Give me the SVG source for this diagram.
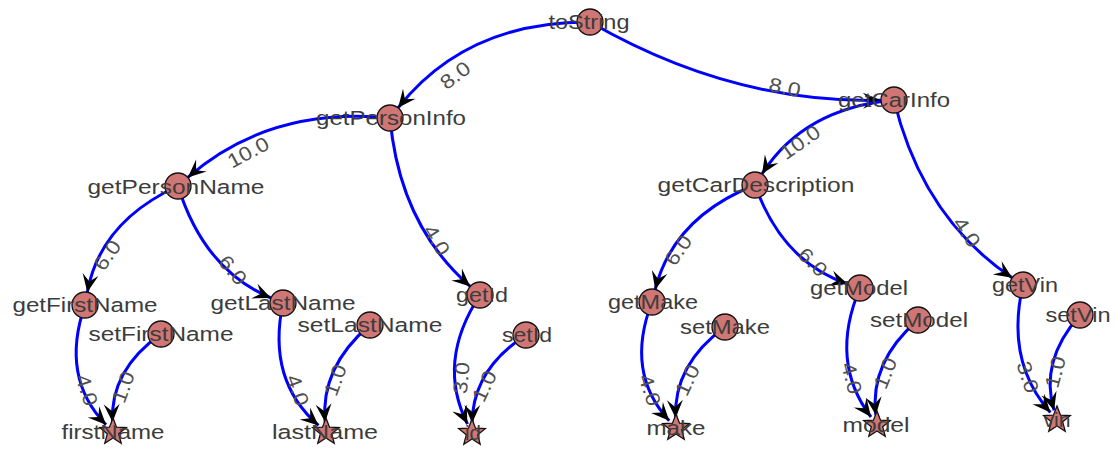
<svg xmlns="http://www.w3.org/2000/svg" xmlns:xlink="http://www.w3.org/1999/xlink" width="1116" height="450" viewBox="0 0 1116 450">
<style>
.e{fill:none;stroke:#0000ff;stroke-width:3;marker-end:url(#arr)}
.el{font-family:"Liberation Sans",Arial,sans-serif;font-size:20px;fill:#505050;text-anchor:middle}
.v{fill:#d07674;stroke:#111;stroke-width:1.3}
.nl{font-family:"Liberation Sans",Arial,sans-serif;font-size:20.5px;fill:#3c3c3c;text-anchor:middle}
</style>
<defs>
<marker id="arr" markerUnits="userSpaceOnUse" viewBox="-19 -9 20 18" refX="0" refY="0" markerWidth="20" markerHeight="18" orient="auto">
<path d="M0,0 L-18,-8 L-11,0 L-18,8 Z" fill="#000"/>
</marker>
<path id="star" d="M0,-14 L3.53,-4.85 L13.31,-4.33 L5.71,1.85 L8.23,11.33 L0,6 L-8.23,11.33 L-5.71,1.85 L-13.31,-4.33 L-3.53,-4.85 Z"/>
</defs>
<rect width="1116" height="450" fill="#fff"/>
<g id="edges">
<path class="e" d="M590,22 Q466.6,21.3 398.1,107.8"/>
<path class="e" d="M590,22 Q731.1,103.6 881,100.3"/>
<path class="e" d="M390,118 Q269.3,106.3 187.8,177.4"/>
<path class="e" d="M390,118 Q399.4,224.6 470.2,286.4"/>
<path class="e" d="M894,100 Q803.6,108.4 762,174"/>
<path class="e" d="M894,100 Q922.4,217.7 1012.2,277.8"/>
<path class="e" d="M178,186 Q100.2,221.6 87.3,292.2"/>
<path class="e" d="M178,186 Q203.9,269.8 271,298"/>
<path class="e" d="M755,185 Q673.5,217.1 655.2,289.4"/>
<path class="e" d="M755,185 Q782.3,262.2 847.7,283.9"/>
<path class="e" d="M85,305 Q59.9,377.1 106,424.8"/>
<path class="e" d="M161,334 Q110.1,369.8 112.5,422"/>
<path class="e" d="M283,303 Q266.5,380.1 318.5,425.4"/>
<path class="e" d="M370,325 Q320.3,367.1 325.1,422"/>
<path class="e" d="M480,295 Q436.1,361.7 467.5,424.1"/>
<path class="e" d="M526,335 Q472.7,369.5 472.1,423"/>
<path class="e" d="M652,302 Q624.7,372.5 669.2,420.7"/>
<path class="e" d="M725,327 Q673.5,364.4 675.6,418"/>
<path class="e" d="M860,288 Q828.8,361.4 871,417"/>
<path class="e" d="M918,320 Q869.5,361.6 875.8,415"/>
<path class="e" d="M1023,285 Q1005.1,361.3 1050.4,412.5"/>
<path class="e" d="M1080,315 Q1039.2,361.1 1054.1,410.4"/>
</g>
<g id="edge-labels">
<text class="el" dy="0.36em" textLength="32" lengthAdjust="spacingAndGlyphs" transform="translate(455,75) rotate(-37)">8.0</text>
<text class="el" dy="0.36em" textLength="32" lengthAdjust="spacingAndGlyphs" transform="translate(785,87) rotate(12)">8.0</text>
<text class="el" dy="0.36em" textLength="44" lengthAdjust="spacingAndGlyphs" transform="translate(248,152) rotate(-28)">10.0</text>
<text class="el" dy="0.36em" textLength="32" lengthAdjust="spacingAndGlyphs" transform="translate(437,240) rotate(58)">4.0</text>
<text class="el" dy="0.36em" textLength="44" lengthAdjust="spacingAndGlyphs" transform="translate(800,142) rotate(-35)">10.0</text>
<text class="el" dy="0.36em" textLength="32" lengthAdjust="spacingAndGlyphs" transform="translate(967,232) rotate(55)">4.0</text>
<text class="el" dy="0.36em" textLength="32" lengthAdjust="spacingAndGlyphs" transform="translate(107,255) rotate(-55)">6.0</text>
<text class="el" dy="0.36em" textLength="32" lengthAdjust="spacingAndGlyphs" transform="translate(233,270) rotate(50)">6.0</text>
<text class="el" dy="0.36em" textLength="32" lengthAdjust="spacingAndGlyphs" transform="translate(678,250) rotate(-55)">6.0</text>
<text class="el" dy="0.36em" textLength="32" lengthAdjust="spacingAndGlyphs" transform="translate(813,262) rotate(45)">6.0</text>
<text class="el" dy="0.36em" textLength="32" lengthAdjust="spacingAndGlyphs" transform="translate(87,390) rotate(72)">4.0</text>
<text class="el" dy="0.36em" textLength="32" lengthAdjust="spacingAndGlyphs" transform="translate(123,387) rotate(-70)">1.0</text>
<text class="el" dy="0.36em" textLength="32" lengthAdjust="spacingAndGlyphs" transform="translate(298,390) rotate(70)">4.0</text>
<text class="el" dy="0.36em" textLength="32" lengthAdjust="spacingAndGlyphs" transform="translate(335,380) rotate(-70)">1.0</text>
<text class="el" dy="0.36em" textLength="32" lengthAdjust="spacingAndGlyphs" transform="translate(461,378) rotate(-85)">3.0</text>
<text class="el" dy="0.36em" textLength="32" lengthAdjust="spacingAndGlyphs" transform="translate(484,386) rotate(-65)">1.0</text>
<text class="el" dy="0.36em" textLength="32" lengthAdjust="spacingAndGlyphs" transform="translate(650,390) rotate(72)">4.0</text>
<text class="el" dy="0.36em" textLength="32" lengthAdjust="spacingAndGlyphs" transform="translate(687,380) rotate(-65)">1.0</text>
<text class="el" dy="0.36em" textLength="32" lengthAdjust="spacingAndGlyphs" transform="translate(852,378) rotate(75)">4.0</text>
<text class="el" dy="0.36em" textLength="32" lengthAdjust="spacingAndGlyphs" transform="translate(885,373) rotate(-68)">1.0</text>
<text class="el" dy="0.36em" textLength="32" lengthAdjust="spacingAndGlyphs" transform="translate(1028,377) rotate(72)">3.0</text>
<text class="el" dy="0.36em" textLength="32" lengthAdjust="spacingAndGlyphs" transform="translate(1055,372) rotate(-75)">1.0</text>
</g>
<g id="n-toString"><circle class="v" cx="590" cy="22" r="13"/><text class="nl" x="589" y="29" textLength="81" lengthAdjust="spacingAndGlyphs">toString</text></g>
<g id="n-getPersonInfo"><circle class="v" cx="390" cy="118" r="13"/><text class="nl" x="391" y="125" textLength="150" lengthAdjust="spacingAndGlyphs">getPersonInfo</text></g>
<g id="n-getCarInfo"><circle class="v" cx="894" cy="100" r="13"/><text class="nl" x="894" y="107" textLength="112" lengthAdjust="spacingAndGlyphs">getCarInfo</text></g>
<g id="n-getPersonName"><circle class="v" cx="178" cy="186" r="13"/><text class="nl" x="176" y="194" textLength="177" lengthAdjust="spacingAndGlyphs">getPersonName</text></g>
<g id="n-getFirstName"><circle class="v" cx="85" cy="305" r="13"/><text class="nl" x="85" y="312" textLength="145" lengthAdjust="spacingAndGlyphs">getFirstName</text></g>
<g id="n-setFirstName"><circle class="v" cx="161" cy="334" r="13"/><text class="nl" x="161" y="341" textLength="145" lengthAdjust="spacingAndGlyphs">setFirstName</text></g>
<g id="n-firstName"><use xlink:href="#star" class="v" x="113" y="432"/><text class="nl" x="113" y="439" textLength="103" lengthAdjust="spacingAndGlyphs">firstName</text></g>
<g id="n-getLastName"><circle class="v" cx="283" cy="303" r="13"/><text class="nl" x="283" y="310" textLength="145" lengthAdjust="spacingAndGlyphs">getLastName</text></g>
<g id="n-setLastName"><circle class="v" cx="370" cy="325" r="13"/><text class="nl" x="370" y="332" textLength="145" lengthAdjust="spacingAndGlyphs">setLastName</text></g>
<g id="n-lastName"><use xlink:href="#star" class="v" x="326" y="432"/><text class="nl" x="325" y="439" textLength="106" lengthAdjust="spacingAndGlyphs">lastName</text></g>
<g id="n-getId"><circle class="v" cx="480" cy="295" r="13"/><text class="nl" x="482" y="302" textLength="52" lengthAdjust="spacingAndGlyphs">getId</text></g>
<g id="n-setId"><circle class="v" cx="526" cy="335" r="13"/><text class="nl" x="527" y="342" textLength="50" lengthAdjust="spacingAndGlyphs">setId</text></g>
<g id="n-id"><use xlink:href="#star" class="v" x="472" y="433"/><text class="nl" x="473" y="440" textLength="16" lengthAdjust="spacingAndGlyphs">id</text></g>
<g id="n-getCarDescription"><circle class="v" cx="755" cy="185" r="13"/><text class="nl" x="756" y="192" textLength="197" lengthAdjust="spacingAndGlyphs">getCarDescription</text></g>
<g id="n-getMake"><circle class="v" cx="652" cy="302" r="13"/><text class="nl" x="653" y="309" textLength="90" lengthAdjust="spacingAndGlyphs">getMake</text></g>
<g id="n-setMake"><circle class="v" cx="725" cy="327" r="13"/><text class="nl" x="725" y="334" textLength="90" lengthAdjust="spacingAndGlyphs">setMake</text></g>
<g id="n-make"><use xlink:href="#star" class="v" x="676" y="428"/><text class="nl" x="676" y="435" textLength="59" lengthAdjust="spacingAndGlyphs">make</text></g>
<g id="n-getModel"><circle class="v" cx="860" cy="288" r="13"/><text class="nl" x="859" y="295" textLength="98" lengthAdjust="spacingAndGlyphs">getModel</text></g>
<g id="n-setModel"><circle class="v" cx="918" cy="320" r="13"/><text class="nl" x="919" y="327" textLength="98" lengthAdjust="spacingAndGlyphs">setModel</text></g>
<g id="n-model"><use xlink:href="#star" class="v" x="877" y="425"/><text class="nl" x="876" y="432" textLength="67" lengthAdjust="spacingAndGlyphs">model</text></g>
<g id="n-getVin"><circle class="v" cx="1023" cy="285" r="13"/><text class="nl" x="1025" y="292" textLength="66" lengthAdjust="spacingAndGlyphs">getVin</text></g>
<g id="n-setVin"><circle class="v" cx="1080" cy="315" r="13"/><text class="nl" x="1078" y="322" textLength="65" lengthAdjust="spacingAndGlyphs">setVin</text></g>
<g id="n-vin"><use xlink:href="#star" class="v" x="1057" y="420"/><text class="nl" x="1057" y="427" textLength="27" lengthAdjust="spacingAndGlyphs">vin</text></g>
</svg>
